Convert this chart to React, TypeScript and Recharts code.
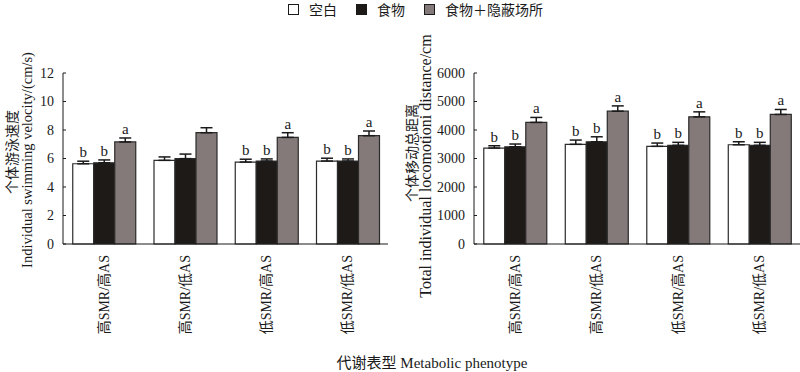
import React from 'react';
import { BarChart, Bar, XAxis, YAxis, ErrorBar, LabelList } from 'recharts';

// phenotype groups
const categories = ['高SMR/高AS', '高SMR/低AS', '低SMR/高AS', '低SMR/低AS'];
const seriesNames = ['空白', '食物', '食物＋隐蔽场所'];
const seriesFill = ['#ffffff', '#1e1a17', '#847a79'];

// individual swimming velocity (cm/s)
const velBlank = [5.63, 5.87, 5.75, 5.82];
const velBlankErr = [0.18, 0.24, 0.2, 0.2];
const velFood = [5.7, 5.99, 5.82, 5.82];
const velFoodErr = [0.2, 0.32, 0.15, 0.15];
const velShelter = [7.16, 7.81, 7.48, 7.6];
const velShelterErr = [0.28, 0.35, 0.33, 0.33];
const velLetters = [
  ['b', '', 'b', 'b'],
  ['b', '', 'b', 'b'],
  ['a', '', 'a', 'a'],
];
const velTicks = [0, 2, 4, 6, 8, 10, 12];

// total locomotion distance (cm)
const distBlank = [3367, 3497, 3427, 3482];
const distBlankErr = [80, 150, 115, 105];
const distFood = [3413, 3587, 3462, 3462];
const distFoodErr = [95, 175, 105, 105];
const distShelter = [4266, 4661, 4462, 4545];
const distShelterErr = [175, 185, 175, 175];
const distLetters = [
  ['b', 'b', 'b', 'b'],
  ['b', 'b', 'b', 'b'],
  ['a', 'a', 'a', 'a'],
];
const distTicks = [0, 1000, 2000, 3000, 4000, 5000, 6000];

const SERIF = "'Liberation Serif', 'Times New Roman', serif";
const MIXED = "'Liberation Serif', 'Noto Sans CJK SC', serif";
const CJK = "'Noto Sans CJK SC', sans-serif";
const INK = '#1a1a1a';

const buildRows = (vals: number[][], errs: number[][], letters: string[][]) =>
  categories.map((name, i) => ({
    name,
    v0: vals[0][i], v1: vals[1][i], v2: vals[2][i],
    e0: errs[0][i], e1: errs[1][i], e2: errs[2][i],
    l0: letters[0][i], l1: letters[1][i], l2: letters[2][i],
  }));

const velData = buildRows(
  [velBlank, velFood, velShelter],
  [velBlankErr, velFoodErr, velShelterErr],
  velLetters
);
const distData = buildRows(
  [distBlank, distFood, distShelter],
  [distBlankErr, distFoodErr, distShelterErr],
  distLetters
);

const CatTick = ({ x, y, payload }: any) => (
  <text
    transform={`translate(${x + 5},${y + 11}) rotate(-90)`}
    textAnchor="end"
    fontSize={14}
    fontFamily={MIXED}
    fill={INK}
  >
    {payload.value}
  </text>
);

// letter sits above the error bar cap; px-per-unit taken from the drawn bar
const letterLabel = (rows: any[], s: number) => (props: any) => {
  const { x, y, width, height, value, index } = props;
  if (!value) return null;
  const row = rows[index];
  const ppu = height / row[`v${s}`];
  const top = y - row[`e${s}`] * ppu;
  return (
    <text x={x + width / 2} y={top - 4} textAnchor="middle" fontSize={15} fontFamily={SERIF} fill={INK}>
      {value}
    </text>
  );
};

function Panel({ data, ticks, yWidth, rightMargin }: any) {
  const yMax = ticks[ticks.length - 1];
  return (
    <BarChart
      width={400}
      height={372}
      data={data}
      margin={{ top: 73, right: rightMargin, bottom: 0, left: 0 }}
      barCategoryGap="12%"
      barGap={0}
    >
      <XAxis
        xAxisId="bnd"
        type="number"
        domain={[0, 4]}
        ticks={[1, 2, 3]}
        height={0}
        axisLine={false}
        tick={false}
        tickSize={-4}
        stroke={INK}
      />
      <XAxis
        xAxisId="cat"
        dataKey="name"
        height={128}
        axisLine={{ stroke: INK }}
        tickLine={false}
        tickSize={0}
        tickMargin={0}
        interval={0}
        tick={<CatTick />}
      />
      <YAxis
        width={yWidth}
        domain={[0, yMax]}
        ticks={ticks}
        interval={0}
        axisLine={{ stroke: INK }}
        tickLine={{ stroke: INK }}
        tickSize={-3}
        tickMargin={12}
        tick={{ fill: INK, fontSize: 14, fontFamily: SERIF }}
      />
      {[0, 1, 2].map((s) => (
        <Bar
          key={s}
          xAxisId="cat"
          dataKey={`v${s}`}
          fill={seriesFill[s]}
          stroke="#2b2b2b"
          strokeWidth={1.2}
          isAnimationActive={false}
        >
          <ErrorBar
            dataKey={(d: any) => [0, d[`e${s}`]]}
            direction="y"
            width={6}
            stroke={INK}
            strokeWidth={1.5}
          />
          <LabelList dataKey={`l${s}`} content={letterLabel(data, s)} />
        </Bar>
      ))}
    </BarChart>
  );
}

export default function App() {
  return (
    <div style={{ position: 'relative', width: 800, height: 372, background: '#fff' }}>
      <style>{'body{margin:0}'}</style>

      {/* legend */}
      <div
        style={{
          position: 'absolute',
          top: 0,
          left: 288,
          height: 18,
          display: 'flex',
          alignItems: 'center',
          fontFamily: CJK,
          fontSize: 14,
          color: INK,
        }}
      >
        {seriesNames.map((n, i) => (
          <div key={n} style={{ display: 'flex', alignItems: 'center', marginRight: 19 }}>
            <span
              style={{
                display: 'inline-block',
                width: 9,
                height: 9,
                border: `1.5px solid ${INK}`,
                background: seriesFill[i],
                marginRight: 10,
              }}
            />
            <span>{n}</span>
          </div>
        ))}
      </div>

      <div style={{ position: 'absolute', left: 0, top: 0 }}>
        <Panel data={velData} ticks={velTicks} yWidth={63} rightMargin={12} />
      </div>
      <div style={{ position: 'absolute', left: 400, top: 0 }}>
        <Panel data={distData} ticks={distTicks} yWidth={74} rightMargin={0} />
      </div>

      {/* axis titles */}
      <svg width={800} height={372} style={{ position: 'absolute', left: 0, top: 0, pointerEvents: 'none' }}>
        <text transform="translate(17,152) rotate(-90)" textAnchor="middle" fontSize={14} fontFamily={CJK} fill={INK}>
          个体游泳速度
        </text>
        <text transform="translate(32,160) rotate(-90)" textAnchor="middle" fontSize={14.5} fontFamily={SERIF} fill={INK}>
          Individual swimming velocity/(cm/s)
        </text>
        <text transform="translate(417,153) rotate(-90)" textAnchor="middle" fontSize={14} fontFamily={CJK} fill={INK}>
          个体移动总距离
        </text>
        <text transform="translate(431,166) rotate(-90)" textAnchor="middle" fontSize={16} fontFamily={SERIF} fill={INK}>
          Total individual locomotioni distance/cm
        </text>
        <text x={432} y={368} textAnchor="middle" fontSize={15} fontFamily={MIXED} fill={INK}>
          代谢表型 Metabolic phenotype
        </text>
      </svg>
    </div>
  );
}
